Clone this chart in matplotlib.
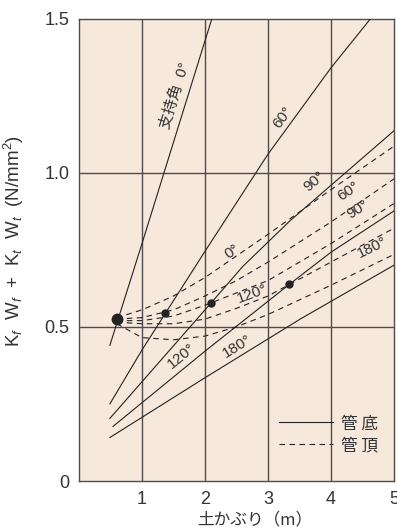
import matplotlib
matplotlib.use("Agg")
import matplotlib.pyplot as plt
from matplotlib.lines import Line2D
import numpy as np

plt.rcParams['font.family'] = ['Liberation Sans', 'Noto Sans CJK JP', 'DejaVu Sans']
plt.rcParams['mathtext.fontset'] = 'custom'
plt.rcParams['mathtext.rm'] = 'Liberation Sans'
plt.rcParams['mathtext.it'] = 'Liberation Sans:italic'

# 管底 (pipe bottom), solid lines, by bedding angle
bottom_0_x = [0.49, 1.0, 2.11]
bottom_0_y = [0.44, 0.77, 1.50]
bottom_60_x = [0.49, 1.0, 2.0, 3.0, 4.0, 4.63]
bottom_60_y = [0.25, 0.425, 0.745, 1.06, 1.34, 1.50]
bottom_90_x = [0.49, 2.09, 2.6, 3.35, 5.0]
bottom_90_y = [0.203, 0.576, 0.696, 0.844, 1.136]
bottom_120_x = [0.54, 2.0, 3.34, 4.0, 5.0]
bottom_120_y = [0.177, 0.421, 0.638, 0.742, 0.876]
bottom_180_x = [0.49, 2.0, 3.51, 5.0]
bottom_180_y = [0.141, 0.335, 0.525, 0.70]

# 管頂 (pipe crown), dashed curves
top_x = [0.6, 1.0, 1.5, 2.0, 2.5, 3.0, 4.0, 5.0]
top_0_y = [0.530, 0.555, 0.600, 0.660, 0.730, 0.800, 0.945, 1.086]
top_60_y = [0.525, 0.530, 0.555, 0.600, 0.650, 0.710, 0.840, 0.980]
top_90_y = [0.520, 0.520, 0.535, 0.570, 0.610, 0.650, 0.770, 0.900]
top_120_y = [0.515, 0.510, 0.510, 0.525, 0.560, 0.600, 0.710, 0.820]
top_180_y = [0.510, 0.465, 0.458, 0.470, 0.500, 0.540, 0.635, 0.735]

# crossing points of crown and bottom curves
cross_x = [1.37, 2.09, 3.34]
cross_y = [0.545, 0.576, 0.638]
start_x = [0.6]
start_y = [0.525]

ink = '#222222'
grid = '#4d4d4d'
txt = '#333333'

fig = plt.figure(figsize=(3.97, 5.30), dpi=100)
ax = fig.add_axes([79 / 397, 1 - 481 / 530, 315 / 397, 462.5 / 530])
ax.set_facecolor('#f7e8dc')
ax.set_xlim(0, 5)
ax.set_ylim(0, 1.5)

for v in [1, 2, 3, 4]:
    ax.axvline(v, color=grid, lw=1.0, zorder=1)
for v in [0.5, 1.0]:
    ax.axhline(v, color=grid, lw=1.0, zorder=1)
for s in ax.spines.values():
    s.set_color(grid)
    s.set_linewidth(1.0)

solid_kw = dict(color=ink, lw=0.8, zorder=3)
dash_kw = dict(color=ink, lw=0.8, ls=(0, (5, 4)), zorder=3)

ax.plot(bottom_0_x, bottom_0_y, **solid_kw)
ax.plot(bottom_60_x, bottom_60_y, **solid_kw)
ax.plot(bottom_90_x, bottom_90_y, **solid_kw)
ax.plot(bottom_120_x, bottom_120_y, **solid_kw)
ax.plot(bottom_180_x, bottom_180_y, **solid_kw)

for ys in [top_0_y, top_60_y, top_90_y, top_120_y, top_180_y]:
    ax.plot(top_x, ys, **dash_kw)

ax.plot(cross_x, cross_y, 'o', color=ink, ms=5, zorder=4)
ax.plot(start_x, start_y, 'o', color=ink, ms=7.5, zorder=4)


def angle_of(x0, y0, x1, y1):
    p0 = ax.transData.transform((x0, y0))
    p1 = ax.transData.transform((x1, y1))
    return np.degrees(np.arctan2(p1[1] - p0[1], p1[0] - p0[0]))


def tag(x, y, s, rot, size=11):
    ax.text(x, y, s, rotation=rot, rotation_mode='anchor', ha='center', va='center',
            fontsize=size, color=txt, zorder=5)


tag(1.52, 1.25, '支持角  0°', angle_of(1.0, 0.77, 2.11, 1.5))
tag(3.24, 1.18, '60°', angle_of(3.0, 1.06, 4.0, 1.34))
tag(3.73, 0.97, '90°', angle_of(3.35, 0.844, 5.0, 1.136))
tag(1.63, 0.405, '120°', angle_of(0.54, 0.177, 2.0, 0.421))
tag(2.51, 0.437, '180°', angle_of(2.0, 0.335, 3.51, 0.525))
tag(2.43, 0.745, '0°', angle_of(2.0, 0.66, 3.0, 0.80))
tag(2.75, 0.606, '120°', angle_of(2.0, 0.525, 3.0, 0.60))
tag(4.27, 0.94, '60°', angle_of(4.0, 0.84, 5.0, 0.98))
tag(4.43, 0.88, '90°', angle_of(4.0, 0.77, 5.0, 0.90))
tag(4.65, 0.757, '180°', angle_of(4.0, 0.635, 5.0, 0.735))

ax.set_xticks([1, 2, 3, 4, 5])
ax.set_yticks([0, 0.5, 1.0, 1.5])
ax.set_yticklabels(['0', '0.5', '1.0', '1.5'])
ax.tick_params(length=0, labelsize=13, colors=txt, pad=7)
ax.set_xlabel('土かぶり（m）', fontsize=12, color=txt,
              family=['Noto Sans CJK JP', 'DejaVu Sans'])
ax.xaxis.set_label_coords(0.559, -0.066)
ax.set_ylabel('K$_{\\it f}$  W$_{\\it f}$  +  K$_{\\it t}$  W$_{\\it t}$  (N/mm$^2$)',
              fontsize=13.5, color=txt)
ax.yaxis.set_label_coords(-0.168, 0.52)

handles = [Line2D([], [], color=ink, lw=0.8),
           Line2D([], [], color=ink, lw=0.8, ls=(0, (5, 4)))]
leg = ax.legend(handles, ['管 底', '管 頂'], loc='lower left', bbox_to_anchor=(0.61, 0.04),
                frameon=False, borderpad=0, handlelength=3.2, handletextpad=0.5,
                labelspacing=0.3,
                prop={'family': ['Noto Sans CJK JP'], 'size': 12})
for t in leg.get_texts():
    t.set_color(txt)

fig.savefig('out.png', dpi=100)
